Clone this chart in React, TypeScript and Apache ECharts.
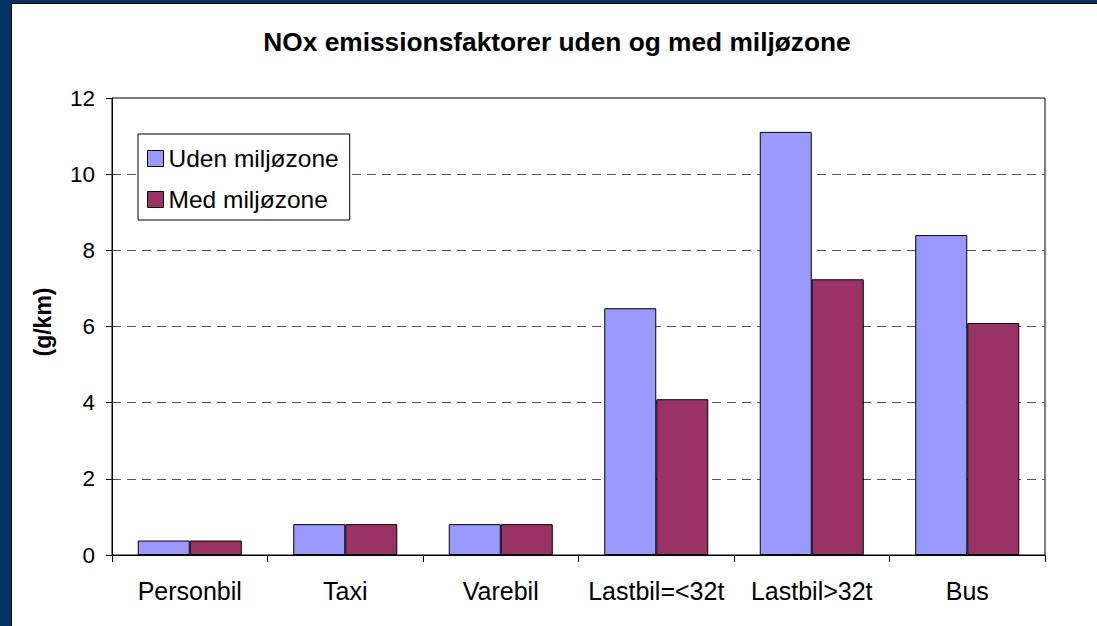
import React, { useEffect, useRef } from "react";
import * as echarts from "echarts";

const categories = ["Personbil", "Taxi", "Varebil", "Lastbil=<32t", "Lastbil>32t", "Bus"];
const udenValues = [0.38, 0.81, 0.81, 6.48, 11.11, 8.4];
const medValues = [0.38, 0.81, 0.81, 4.09, 7.24, 6.09];
const seriesNames = ["Uden miljøzone", "Med miljøzone"];
const titleText = "NOx emissionsfaktorer uden og med miljøzone";
const yAxisTitle = "(g/km)";

const FONT = '"Liberation Sans", Arial, sans-serif';

export default function App() {
  const ref = useRef<HTMLDivElement>(null);

  useEffect(() => {
    if (!ref.current) return;
    const chart = echarts.init(ref.current, undefined, { renderer: "svg" });
    chart.setOption({
      animation: false,
      backgroundColor: "#003366",
      textStyle: { fontFamily: FONT },
      graphic: [
        {
          type: "rect",
          z: -10,
          shape: { x: 11.5, y: 3.5, width: 1200, height: 700 },
          style: { fill: "#ffffff", stroke: "#000000", lineWidth: 1 },
        },
        {
          type: "text",
          z: 10,
          x: 557,
          y: 42,
          style: {
            text: titleText,
            fontFamily: FONT,
            fontWeight: "bold",
            fontSize: 26.3,
            fill: "#000",
            align: "center",
            verticalAlign: "middle",
          },
        },
        {
          type: "text",
          z: 10,
          x: 43,
          y: 322,
          rotation: Math.PI / 2,
          style: {
            text: yAxisTitle,
            fontFamily: FONT,
            fontWeight: "bold",
            fontSize: 23,
            fill: "#000",
            align: "center",
            verticalAlign: "middle",
          },
        },
      ],
      legend: {
        orient: "vertical",
        left: 138,
        top: 134,
        padding: [12, 11, 8, 9],
        itemGap: 16,
        itemWidth: 16,
        itemHeight: 16,
        icon: "rect",
        backgroundColor: "#ffffff",
        borderColor: "#000000",
        borderWidth: 1,
        itemStyle: { borderColor: "#000", borderWidth: 1 },
        textStyle: { fontFamily: FONT, fontSize: 24.5, color: "#000", lineHeight: 22 },
        data: seriesNames,
      },
      grid: {
        left: 112,
        top: 98,
        width: 933,
        height: 457,
        containLabel: false,
        show: true,
        borderColor: "#000",
        borderWidth: 1,
        backgroundColor: "transparent",
      },
      xAxis: [
        {
          type: "category",
          data: categories,
          boundaryGap: true,
          axisLine: { show: true, lineStyle: { color: "#000", width: 1 } },
          axisTick: { show: true, length: 7, alignWithLabel: false, lineStyle: { color: "#000" } },
          axisLabel: { fontFamily: FONT, fontSize: 25, color: "#000", margin: 23, interval: 0 },
          splitLine: { show: false },
        },
      ],
      yAxis: [
        {
          type: "value",
          min: 0,
          max: 12,
          interval: 2,
          axisLine: { show: true, lineStyle: { color: "#000", width: 1 } },
          axisTick: { show: true, length: 6, lineStyle: { color: "#000" } },
          axisLabel: { fontFamily: FONT, fontSize: 22.5, color: "#000", margin: 17 },
          splitLine: {
            show: true,
            showMinLine: false,
            showMaxLine: false,
            lineStyle: { color: "#555", width: 1, type: [9, 6] },
          },
        },
      ],
      series: [
        {
          name: seriesNames[0],
          type: "bar",
          data: udenValues,
          barWidth: 52,
          barGap: "0%",
          itemStyle: { color: "#9999FF", borderColor: "#000", borderWidth: 1 },
        },
        {
          name: seriesNames[1],
          type: "bar",
          data: medValues,
          barWidth: 52,
          barGap: "0%",
          itemStyle: { color: "#993366", borderColor: "#000", borderWidth: 1 },
        },
      ],
    });
    return () => chart.dispose();
  }, []);

  return (
    <div
      ref={ref}
      style={{ position: "absolute", left: 0, top: 0, width: 1097, height: 626 }}
    />
  );
}
